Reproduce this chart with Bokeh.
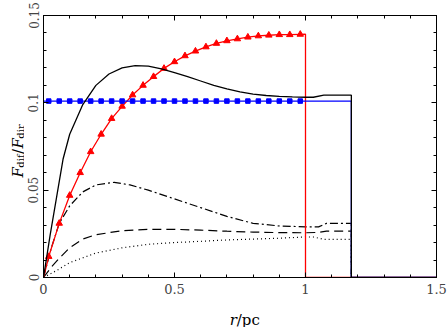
import numpy as np
from bokeh.plotting import figure
from bokeh.layouts import row, column
from bokeh.models import (Range1d, FixedTicker, LinearAxis,
                          CustomJSTickFormatter)
from bokeh.core.properties import value
from bokeh.embed import file_html
from bokeh.resources import INLINE

# ---------------- data ----------------
x_ticks = [0, 0.5, 1, 1.5]
x_tick_labels = ["0", "0.5", "1", "1.5"]
y_ticks = [0, 0.05, 0.1, 0.15]
y_tick_labels = ["0", "0.05", "0.1", "0.15"]

# solid black curve
black_x = [0, 0.025, 0.05, 0.075, 0.1, 0.15, 0.2, 0.25, 0.3, 0.35, 0.4, 0.45,
           0.5, 0.55, 0.6, 0.65, 0.7, 0.75, 0.8, 0.85, 0.9, 0.95, 1.0, 1.03,
           1.07, 1.175, 1.175, 1.5]
black_y = [0, 0.024, 0.046, 0.068, 0.082, 0.099, 0.110, 0.1165, 0.1200,
           0.1213, 0.1210, 0.1195, 0.1173, 0.1150, 0.1125, 0.1100, 0.1080,
           0.1063, 0.1050, 0.1042, 0.1037, 0.1034, 0.1032, 0.1032, 0.1044,
           0.1044, 0, 0]

# dash-dot curve
dashdot_x = [0, 0.03, 0.06, 0.1, 0.15, 0.2, 0.27, 0.33, 0.4, 0.5, 0.6, 0.7,
             0.8, 0.9, 1.0, 1.05, 1.08, 1.175, 1.175]
dashdot_y = [0, 0.017, 0.031, 0.041, 0.049, 0.053, 0.0545, 0.053, 0.050,
             0.045, 0.040, 0.035, 0.031, 0.0295, 0.029, 0.029, 0.031, 0.031, 0]

# dashed curve
dashed_x = [0, 0.03, 0.06, 0.1, 0.15, 0.2, 0.3, 0.4, 0.5, 0.6, 0.7, 0.8, 0.9,
            1.0, 1.05, 1.08, 1.175, 1.175]
dashed_y = [0, 0.006, 0.011, 0.017, 0.022, 0.0245, 0.0268, 0.0276, 0.0276,
            0.0271, 0.0265, 0.026, 0.0257, 0.0256, 0.0258, 0.0265, 0.0265, 0]

# dotted curve
dotted_x = [0, 0.05, 0.1, 0.2, 0.3, 0.4, 0.5, 0.6, 0.7, 0.8, 0.9, 1.0, 1.03,
            1.07, 1.175, 1.175]
dotted_y = [0, 0.004, 0.0085, 0.014, 0.017, 0.019, 0.020, 0.0207, 0.0215,
            0.022, 0.0225, 0.0232, 0.0232, 0.0218, 0.0218, 0]

# red curve (line) and its triangle markers
red_x = [0, 0.02, 0.06, 0.10, 0.14, 0.18, 0.22, 0.26, 0.30, 0.34, 0.38, 0.42,
         0.46, 0.50, 0.54, 0.58, 0.62, 0.66, 0.70, 0.74, 0.78, 0.82, 0.86,
         0.90, 0.94, 0.98, 1.0, 1.0, 1.5]
red_y = [0, 0.012, 0.031, 0.047, 0.060, 0.072, 0.082, 0.091, 0.098, 0.1045,
         0.110, 0.1150, 0.1197, 0.1235, 0.1269, 0.1296, 0.1320, 0.1340,
         0.1355, 0.1366, 0.1376, 0.1383, 0.1387, 0.1390, 0.1390, 0.1392,
         0.1393, 0, 0]
red_mark_x = red_x[1:26]
red_mark_y = red_y[1:26]

# blue curve (line) and its square markers
blue_x = [0, 1.175, 1.175, 1.5]
blue_y = [0.101, 0.101, 0, 0]
blue_mark_x = red_mark_x
blue_mark_y = [0.101] * len(blue_mark_x)

# axis title pieces
x_title = ["r", "/pc"]
y_title = ["F", "dif", "/", "F", "dir"]

# ---------------- layout sizes (pixels) ----------------
SERIF = "DejaVu Serif"
W_TOTAL, H_TOTAL = 447, 327
FRAME_L, FRAME_R, FRAME_T, FRAME_B = 43, 436, 15, 277
LEFT_W = 24          # strip holding the y title
BOTTOM_H = 26        # strip holding the x title
MAIN_W = W_TOTAL - LEFT_W
MAIN_H = H_TOTAL - BOTTOM_H

# ---------------- main figure ----------------
p = figure(width=MAIN_W, height=MAIN_H, x_range=Range1d(0, 1.5),
           y_range=Range1d(0, 0.15), output_backend="svg",
           toolbar_location=None, min_border_left=FRAME_L - LEFT_W,
           min_border_right=W_TOTAL - FRAME_R, min_border_top=FRAME_T,
           min_border_bottom=MAIN_H - FRAME_B)
p.xgrid.visible = False
p.ygrid.visible = False
p.outline_line_color = "black"
p.background_fill_color = "white"
p.border_fill_color = "white"

x_minor = [round(v, 2) for v in np.arange(0, 1.51, 0.1)]
y_minor = [round(v, 3) for v in np.arange(0, 0.151, 0.01)]
xt = FixedTicker(ticks=x_ticks, minor_ticks=x_minor)
yt = FixedTicker(ticks=y_ticks, minor_ticks=y_minor)


def style(ax):
    ax.axis_line_color = "black"
    ax.axis_line_width = 1
    ax.major_tick_in = 5
    ax.major_tick_out = 0
    ax.minor_tick_in = 3
    ax.minor_tick_out = 0
    ax.major_tick_line_color = "black"
    ax.minor_tick_line_color = "black"


xa = p.xaxis[0]
xa.ticker = xt
xa.major_label_overrides = {v: s for v, s in zip(x_ticks, x_tick_labels)}
xa.major_label_text_font = SERIF
xa.major_label_text_font_size = "13px"
xa.major_label_standoff = 6
style(xa)

ya = p.yaxis[0]
ya.ticker = yt
ya.major_label_overrides = {v: s for v, s in zip(y_ticks, y_tick_labels)}
ya.major_label_text_font = SERIF
ya.major_label_text_font_size = "12px"
ya.major_label_orientation = "vertical"
ya.major_label_standoff = 5
style(ya)

empty = CustomJSTickFormatter(code="return ''")
top = LinearAxis(ticker=xt, formatter=empty, major_label_standoff=0,
                 major_label_text_font_size="1px")
style(top)
p.add_layout(top, "above")
right = LinearAxis(ticker=yt, formatter=empty, major_label_standoff=0,
                   major_label_text_font_size="1px")
style(right)
p.add_layout(right, "right")

p.line(dotted_x, dotted_y, color="black", line_width=1.2, line_dash="1 3")
p.line(dashed_x, dashed_y, color="black", line_width=1.2, line_dash="9 5")
p.line(dashdot_x, dashdot_y, color="black", line_width=1.2,
       line_dash="8 3 2 3")
p.line(red_x, red_y, color="red", line_width=1.3)
p.scatter(red_mark_x, red_mark_y, marker="triangle", size=6.5, color="red")
p.line(blue_x, blue_y, color="blue", line_width=1.3)
p.scatter(blue_mark_x, blue_mark_y, marker="square", size=4.5, color="blue")
p.line(black_x, black_y, color="black", line_width=1.3)


# ---------------- title strips (pixel coordinates) ----------------
def strip(w, h):
    f = figure(width=w, height=h, x_range=Range1d(0, w),
               y_range=Range1d(0, h), output_backend="svg",
               toolbar_location=None, x_axis_type=None, y_axis_type=None,
               min_border=0, min_border_left=0, min_border_right=0,
               min_border_top=0, min_border_bottom=0)
    f.xgrid.visible = False
    f.ygrid.visible = False
    f.outline_line_color = None
    f.background_fill_color = "white"
    f.border_fill_color = "white"
    return f


# y title: rotated, reading upwards
left = strip(LEFT_W, H_TOTAL)
y_base = H_TOTAL - 177          # start of the title, from the bottom
y_style = [("italic", "15px", 17, 0), ("normal", "10px", 20, 9.8),
           ("normal", "15px", 17, 23.5), ("italic", "15px", 17, 29),
           ("normal", "10px", 20, 38.8)]
for t, (st, sz, bx, dy) in zip(y_title, y_style):
    left.text(x=[bx], y=[y_base + dy], text=[t], angle=np.pi / 2,
              text_font=value(SERIF), text_font_style=st,
              text_font_size=sz, text_align="left",
              text_baseline="alphabetic", text_color="black")

# x title
bottom = strip(MAIN_W, BOTTOM_H)
cx = (FRAME_L + FRAME_R) / 2 - LEFT_W
bottom.text(x=[cx - 15], y=[8], text=[x_title[0]], text_font=value(SERIF),
            text_font_style="italic", text_font_size="15px",
            text_align="left", text_baseline="alphabetic", text_color="black")
bottom.text(x=[cx - 7.5], y=[8], text=[x_title[1]], text_font=value(SERIF),
            text_font_style="normal", text_font_size="15px",
            text_align="left", text_baseline="alphabetic", text_color="black")

layout = row(left, column(p, bottom, spacing=0), spacing=0)

open("out.html", "w").write(file_html(layout, INLINE))
